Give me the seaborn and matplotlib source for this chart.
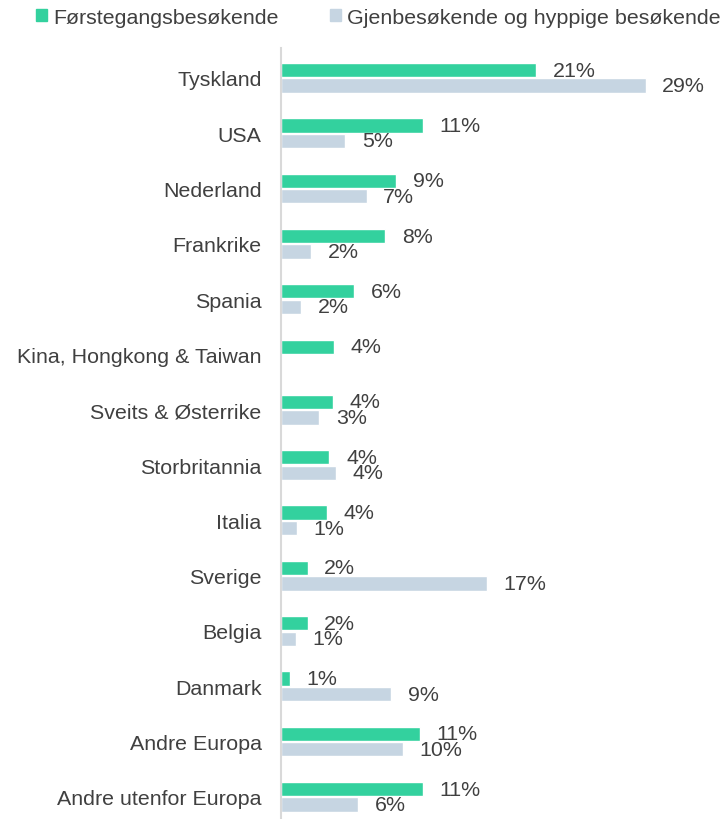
import pandas as pd
import matplotlib
matplotlib.use('Agg')
import matplotlib.pyplot as plt
import matplotlib.patches as mpatches
import seaborn as sns

# ── Data (share of visitors per market, %) ──────────────────────────────────
COUNTRIES = ['Tyskland', 'USA', 'Nederland', 'Frankrike', 'Spania',
             'Kina, Hongkong & Taiwan', 'Sveits & Østerrike', 'Storbritannia',
             'Italia', 'Sverige', 'Belgia', 'Danmark', 'Andre Europa',
             'Andre utenfor Europa']
FIRST_TIME = [20.6, 11.45, 9.3, 8.4, 5.9, 4.3, 4.2, 3.9, 3.7, 2.15, 2.15,
              0.7, 11.2, 11.45]
RETURNING = [29.4, 5.2, 6.9, 2.4, 1.6, 0.0, 3.1, 4.4, 1.3, 16.6, 1.2,
             8.9, 9.8, 6.2]
SERIES = ['Førstegangsbesøkende', 'Gjenbesøkende og hyppige besøkende']
COLORS = ['#33d19e', '#c6d5e2']
TEXT_COLOR = '#404040'
FS = 15.4

df = pd.DataFrame({
    'land': COUNTRIES * 2,
    'andel': FIRST_TIME + RETURNING,
    'gruppe': [SERIES[0]] * len(COUNTRIES) + [SERIES[1]] * len(COUNTRIES),
})

sns.set_style('white')
plt.rcParams['font.family'] = ['Liberation Sans', 'DejaVu Sans']

fig = plt.figure(figsize=(7.22, 8.20), dpi=100)
ax = fig.add_axes([281 / 722, 0.0, 1 - 281 / 722, 771 / 820])

sns.barplot(data=df, y='land', x='andel', hue='gruppe', orient='h',
            palette=COLORS, width=0.56, gap=0.08, ax=ax, legend=False,
            saturation=1)

for cont in ax.containers:
    labels = [f'{b.get_width():.0f}%' if b.get_width() > 0 else '' for b in cont]
    ax.bar_label(cont, labels=labels, padding=12, fontsize=FS, color=TEXT_COLOR)

ax.set_xlim(0, 441 / 12.4)
ax.set_ylim(13.4, -0.54)
ax.set_xlabel('')
ax.set_ylabel('')
ax.set_xticks([])
ax.tick_params(axis='y', length=0, pad=14, labelsize=FS, labelcolor=TEXT_COLOR)
for side in ['top', 'right', 'bottom']:
    ax.spines[side].set_visible(False)
ax.spines['left'].set_color('#d9d9d9')
ax.spines['left'].set_linewidth(1.5)

handles = [mpatches.Patch(color=c, label=s) for c, s in zip(COLORS, SERIES)]
fig.legend(handles=handles, loc='center', bbox_to_anchor=(0.524, 0.978), ncol=2,
           frameon=False, fontsize=FS, labelcolor=TEXT_COLOR,
           handlelength=0.5, handleheight=0.5, handletextpad=0.3,
           columnspacing=2.4)

plt.savefig('out.png', dpi=100)
